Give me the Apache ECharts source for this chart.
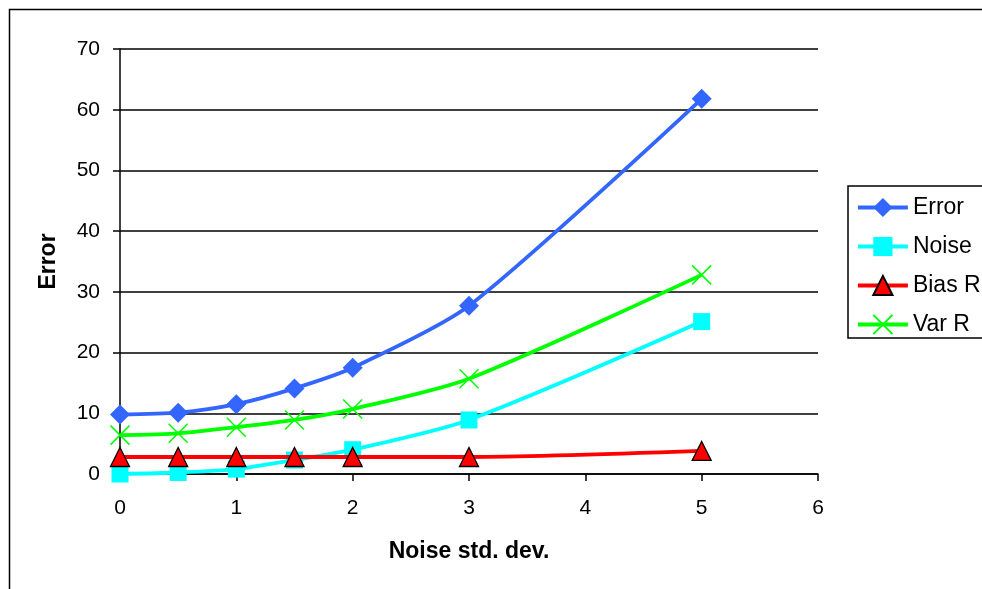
<!DOCTYPE html>
<html>
<head>
<meta charset="utf-8">
<script src="https://cdn.jsdelivr.net/npm/echarts@6/dist/echarts.min.js"></script>
<style>html,body{margin:0;padding:0;background:#fff}#c{width:982px;height:589px}</style>
</head>
<body>
<div id="c"></div>
<script>
var noiseStd = [0, 0.5, 1, 1.5, 2, 3, 5];
var errorVals = [9.8, 10.1, 11.5, 14.1, 17.5, 27.7, 61.8];
var noiseVals = [0, 0.25, 0.8, 2.3, 4.0, 8.9, 25.1];
var biasVals = [2.8, 2.8, 2.8, 2.8, 2.8, 2.8, 3.8];
var varVals = [6.4, 6.7, 7.7, 8.9, 10.7, 15.7, 32.8];
var seriesNames = ['Error', 'Noise', 'Bias R', 'Var R'];

function pairs(v){ return noiseStd.map(function(x,i){ return [x, v[i]]; }); }

var font = 'Liberation Sans, Arial, sans-serif';
var chart = echarts.init(document.getElementById('c'), null, {renderer:'canvas'});
chart.setOption({
  animation:false,
  backgroundColor:'#fff',
  graphic:[{type:'rect', left:7, top:7, shape:{x:0,y:0,width:1100,height:700}, style:{fill:null, stroke:'#000', lineWidth:1.5}, silent:true, z:-1}],
  grid:{left:120, right:164, top:49, bottom:115},
  legend:{
    left:848, top:186, orient:'vertical',
    data:seriesNames,
    backgroundColor:'#fff',
    borderColor:'#000', borderWidth:1.5, borderRadius:0,
    padding:[10, 30, 2, 8],
    itemWidth:50, itemHeight:24, itemGap:16,
    lineStyle:{width:3.8},
    textStyle:{fontFamily:font, fontSize:23, color:'#000'}
  },
  xAxis:{
    type:'value', min:0, max:6, interval:1,
    name:'Noise std. dev.', nameLocation:'middle', nameGap:66,
    nameTextStyle:{fontFamily:font, fontSize:23, fontWeight:'bold', color:'#000'},
    axisLine:{lineStyle:{color:'#000', width:1.5}},
    axisTick:{show:true, length:7, lineStyle:{color:'#000', width:1.5}},
    axisLabel:{fontFamily:font, fontSize:21, color:'#000', margin:24},
    splitLine:{show:false}
  },
  yAxis:{
    type:'value', min:0, max:70, interval:10,
    name:'Error', nameLocation:'middle', nameGap:60, nameRotate:90,
    nameTextStyle:{fontFamily:font, fontSize:23, fontWeight:'bold', color:'#000'},
    axisLine:{show:true, lineStyle:{color:'#000', width:1.5}},
    axisTick:{show:true, length:7, lineStyle:{color:'#000', width:1.5}},
    axisLabel:{fontFamily:font, fontSize:21, color:'#000', margin:20},
    splitLine:{show:true, lineStyle:{color:'#000', width:1.5}}
  },
  series:[
    {name:'Error', type:'line', data:pairs(errorVals), smooth:0.25,
     symbol:'diamond', symbolSize:20,
     itemStyle:{color:'#3366ff'}, lineStyle:{color:'#3366ff', width:3.8}, z:5},
    {name:'Noise', type:'line', data:pairs(noiseVals), smooth:0.25,
     symbol:'rect', symbolSize:17,
     itemStyle:{color:'#00ffff'}, lineStyle:{color:'#00ffff', width:3.8}, z:3},
    {name:'Bias R', type:'line', data:pairs(biasVals), smooth:0.25,
     symbol:'triangle', symbolSize:19,
     itemStyle:{color:'#ff0000', borderColor:'#000', borderWidth:1.3}, lineStyle:{color:'#ff0000', width:3.8}, z:4},
    {name:'Var R', type:'line', data:pairs(varVals), smooth:0.25,
     symbol:'path://M0,0L10,10M10,0L0,10', symbolSize:19,
     itemStyle:{color:'rgba(0,0,0,0)', borderColor:'#00ff00', borderWidth:1.5}, lineStyle:{color:'#00ff00', width:3.8}, z:4}
  ]
});
</script>
</body>
</html>
